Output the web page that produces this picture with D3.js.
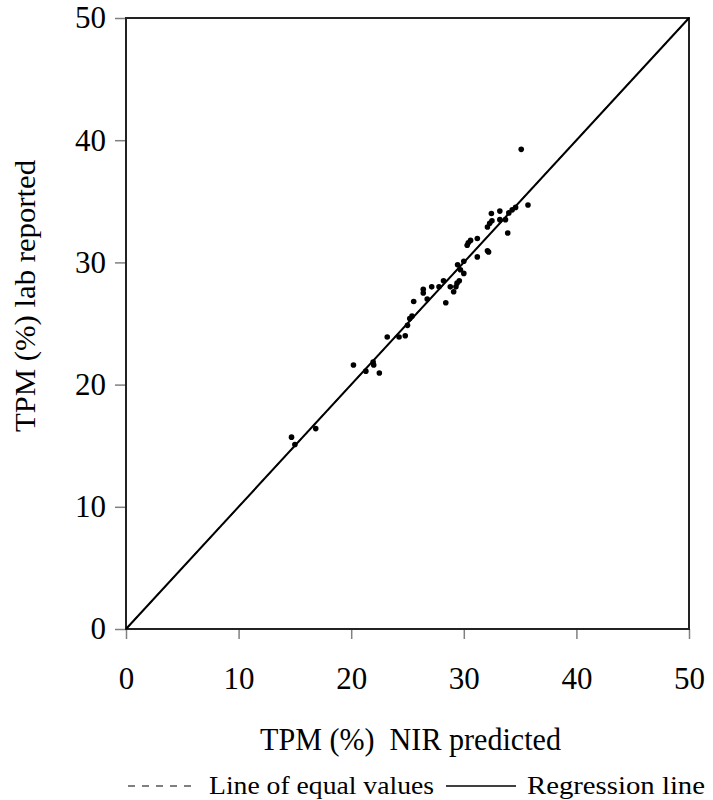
<!DOCTYPE html>
<html>
<head>
<meta charset="utf-8">
<script src="https://cdn.jsdelivr.net/npm/d3@7"></script>
<style>
  html, body { margin: 0; padding: 0; background: #fff; }
</style>
</head>
<body>
<svg id="chart" width="713" height="800"></svg>
<script>
// ---- data ----
const predicted = [14.7, 15.0, 16.85, 20.2, 21.3, 21.95, 22.0, 22.5, 23.2, 24.25, 24.8, 25.0, 25.2, 25.4, 25.55,
  26.4, 26.4, 26.75, 27.15, 27.8, 28.2, 28.4, 28.8, 29.1, 29.3, 29.4, 29.6, 30.0, 29.7, 29.45, 30.0,
  31.2, 32.1, 32.2, 30.3, 30.4, 30.6, 31.2, 32.1, 32.3, 32.5, 32.45, 33.2, 33.2, 33.7, 33.9, 34.0,
  34.3, 34.6, 35.7, 35.1];
const reported = [15.7, 15.1, 16.4, 21.6, 21.1, 21.85, 21.6, 20.95, 23.9, 23.9, 24.0, 24.85, 25.4, 25.6, 26.8,
  27.8, 27.5, 27.0, 28.0, 28.0, 28.5, 26.7, 28.0, 27.6, 28.0, 28.3, 28.5, 29.1, 29.4, 29.8, 30.1,
  30.45, 30.95, 30.85, 31.4, 31.6, 31.8, 31.95, 32.9, 33.2, 33.4, 34.0, 34.2, 33.5, 33.5, 32.4, 34.05,
  34.3, 34.5, 34.7, 39.25];
const xTicks = [0, 10, 20, 30, 40, 50];
const yTicks = [0, 10, 20, 30, 40, 50];
const equalLine = [[0, 0], [50, 50]];
const regressionLine = [[0, 0], [50, 50]];
const xTitle = "TPM (%)  NIR predicted";
const yTitle = "TPM (%) lab reported";
const legendLabels = ["Line of equal values", "Regression line"];

const FONT = '"Liberation Serif", "Times New Roman", Times, "DejaVu Serif", serif';

// ---- layout ----
const svg = d3.select("#chart");
const x = d3.scaleLinear().domain([0, 50]).range([126, 689]);
const y = d3.scaleLinear().domain([0, 50]).range([629, 18]);

const yAxis = d3.axisLeft(y).tickValues(yTicks).tickSize(11).tickSizeOuter(0).tickPadding(9);
const xAxis = d3.axisBottom(x).tickValues(xTicks).tickSize(10).tickSizeOuter(0).tickPadding(28);

const gy = svg.append("g").attr("transform", `translate(${x(0)},0)`).call(yAxis);
const gx = svg.append("g").attr("transform", `translate(0,${y(0)})`).call(xAxis);
[gx, gy].forEach(g => {
  g.attr("font-family", FONT).attr("font-size", 31);
  g.select(".domain").remove();
  g.selectAll(".tick line").attr("stroke", "#808080").attr("stroke-width", 1.5);
  g.selectAll(".tick text").attr("fill", "#000").style("font-family", FONT).style("font-size", "31px");
});

// frame
svg.append("rect")
  .attr("x", x(0)).attr("y", y(50))
  .attr("width", x(50) - x(0)).attr("height", y(0) - y(50))
  .attr("fill", "none").attr("stroke", "#222").attr("stroke-width", 2);

const line = d3.line().x(d => x(d[0])).y(d => y(d[1]));

svg.append("path").datum(equalLine).attr("d", line)
  .attr("fill", "none").attr("stroke", "#000").attr("stroke-width", 1.2).attr("stroke-dasharray", "6,5");
svg.append("path").datum(regressionLine).attr("d", line)
  .attr("fill", "none").attr("stroke", "#000").attr("stroke-width", 2);

svg.append("g").selectAll("circle")
  .data(predicted.map((p, i) => [p, reported[i]]))
  .join("circle")
  .attr("cx", d => x(d[0])).attr("cy", d => y(d[1]))
  .attr("r", 2.8).attr("fill", "#000");

const T = sel => sel.style("font-family", FONT).attr("fill", "#000").style("white-space", "pre");

svg.append("text")
  .attr("x", 260).attr("y", 750)
  .attr("textLength", 301).attr("lengthAdjust", "spacingAndGlyphs")
  .style("font-size", "31px").call(T)
  .text(xTitle);

svg.append("text")
  .attr("transform", "translate(35,432) rotate(-90)")
  .attr("textLength", 272).attr("lengthAdjust", "spacingAndGlyphs")
  .style("font-size", "30px").call(T)
  .text(yTitle);

const ly = 786;
svg.append("line").attr("x1", 128).attr("x2", 196).attr("y1", ly).attr("y2", ly)
  .attr("stroke", "#000").attr("stroke-width", 1).attr("stroke-dasharray", "7,7");
svg.append("text").attr("x", 209).attr("y", 794)
  .attr("textLength", 225).attr("lengthAdjust", "spacingAndGlyphs")
  .style("font-size", "26px").call(T).text(legendLabels[0]);
svg.append("line").attr("x1", 446).attr("x2", 516).attr("y1", ly).attr("y2", ly)
  .attr("stroke", "#000").attr("stroke-width", 1.5);
svg.append("text").attr("x", 527).attr("y", 794)
  .attr("textLength", 178).attr("lengthAdjust", "spacingAndGlyphs")
  .style("font-size", "26px").call(T).text(legendLabels[1]);
</script>
</body>
</html>
